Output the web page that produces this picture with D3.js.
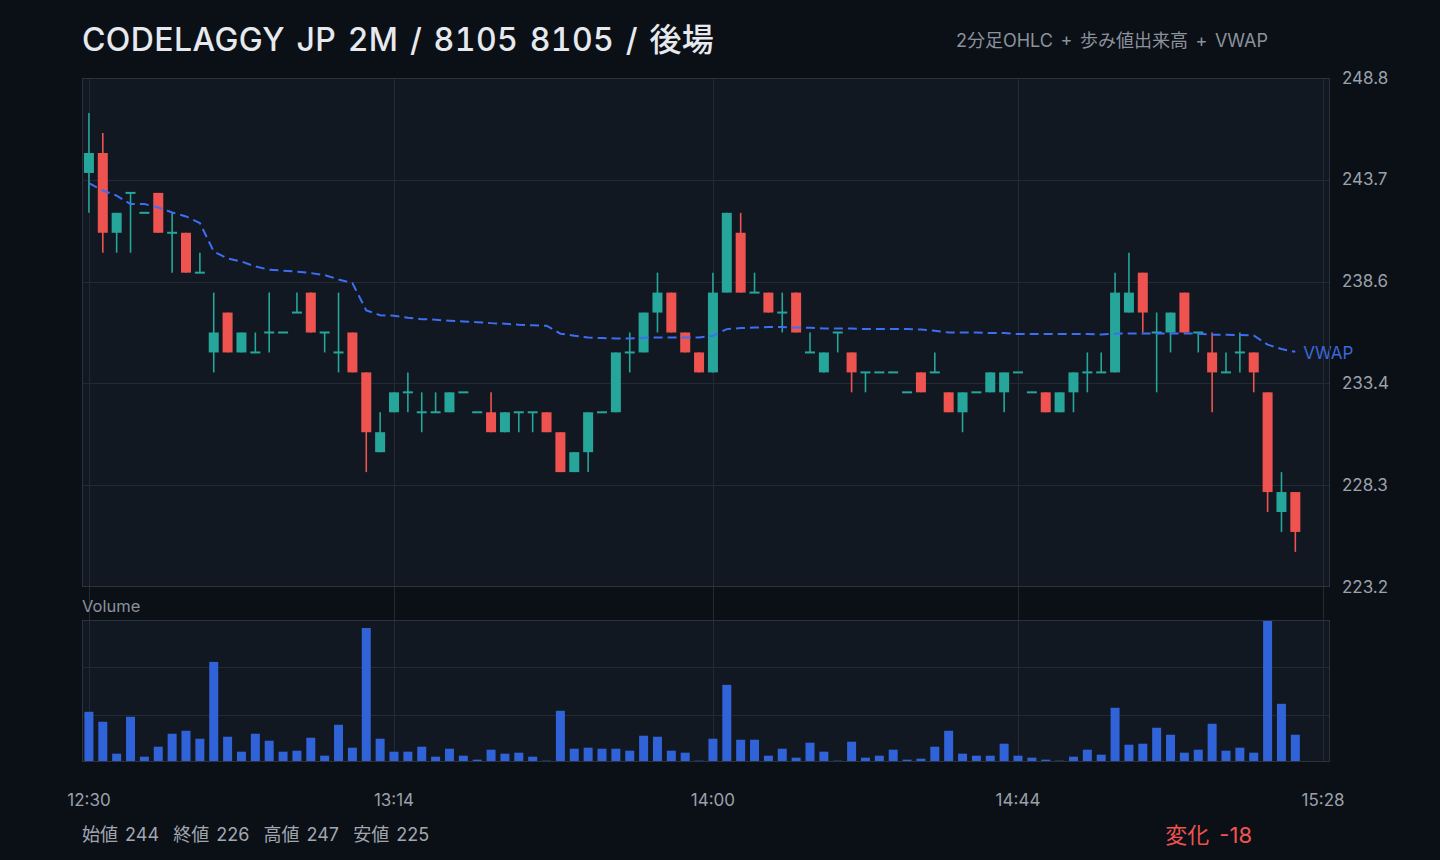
<!DOCTYPE html>
<html lang="ja">
<head>
<meta charset="UTF-8">
<title>CODELAGGY JP 2M / 8105</title>
<script src="https://cdn.jsdelivr.net/npm/d3@7"></script>
<style>
  html, body { margin: 0; padding: 0; background: #0b0f16; }
  svg { display: block; font-family: Inter, "Noto Sans CJK JP", sans-serif; }
</style>
</head>
<body>
<svg id="chart" width="1440" height="860"></svg>
<script>
// 2-minute bars, afternoon session
const sessionStart = '12:30';
const slotCount = 90;            // 12:30 .. 15:28
const tickLabels = ['12:30', '13:14', '14:00', '14:44', '15:28'];

const opens  = [244,245,241,243,242,243,241,241,239,235,237,235,235,236,236,237,238,236,235,236,
                234,230,232,233,232,232,232,233,232,232,231,232,232,232,231,229,230,232,232,235,
                235,237,238,236,235,234,238,241,238,238,237,238,235,234,236,235,234,234,234,233,
                234,234,233,232,233,233,233,234,233,233,232,233,234,234,234,237,239,236,236,238,
                236,235,234,235,235,233,227,228];
const highs  = [247,246,242,243,242,243,242,241,240,238,237,236,236,238,236,238,238,236,238,236,
                234,232,233,234,233,233,233,233,232,233,232,232,232,232,231,230,232,232,235,236,
                237,239,238,236,235,239,242,242,239,238,238,238,236,235,236,235,234,234,234,233,
                234,235,233,233,233,234,234,234,233,233,233,234,235,235,239,240,239,237,237,238,
                236,236,235,236,235,233,229,228];
const lows   = [242,240,240,240,242,241,239,239,239,234,235,235,235,235,236,237,236,235,234,234,
                229,230,232,232,231,232,232,233,232,231,231,231,231,231,229,229,229,232,232,234,
                235,236,236,235,234,234,238,238,238,237,236,236,235,234,235,233,233,234,234,233,
                233,234,232,231,233,233,232,234,233,232,232,232,233,234,234,237,236,233,235,236,
                235,232,234,234,233,227,226,225];
const closes = [245,241,242,243,242,241,241,239,239,236,235,236,235,236,236,237,236,236,235,234,
                231,231,233,233,232,232,233,233,232,231,232,232,232,231,229,230,232,232,235,235,
                237,238,236,235,234,238,242,238,238,237,237,236,235,235,236,234,234,234,234,233,
                233,234,232,233,233,234,234,234,233,232,233,234,234,234,238,238,237,236,237,236,
                236,234,234,235,234,228,228,226];
const volumes = [15100,12100,2500,13600,1600,4600,8500,9400,7000,30100,7600,3100,8500,6400,3100,3400,7300,1900,11200,4300,
                 40300,7000,3100,3100,4600,1600,4000,1900,700,3700,2500,2800,1600,400,15400,4000,4300,4000,4000,3400,
                 7900,7600,3400,2800,400,7000,23200,6700,6700,1900,4000,1300,5800,3100,400,6100,1300,1900,3700,700,
                 1000,4600,9400,2500,1900,1900,5500,1900,1300,700,400,1600,3700,2200,16300,5200,5500,10300,8200,2800,
                 3700,11500,3400,4300,2800,42700,17500,8200];
const vwap = [243.49,243.12,242.86,242.44,242.44,242.27,242.02,241.82,241.49,240.06,239.71,239.56,239.31,239.15,239.10,239.05,238.98,238.88,238.66,238.48,
              237.11,236.87,236.84,236.74,236.67,236.64,236.59,236.55,236.52,236.47,236.44,236.39,236.36,236.34,235.94,235.84,235.75,235.72,235.70,235.70,
              235.74,235.75,235.75,235.75,235.75,235.84,236.17,236.22,236.25,236.27,236.27,236.25,236.24,236.20,236.20,236.20,236.17,236.17,236.17,236.17,
              236.15,236.09,236.00,236.00,236.00,235.97,235.97,235.92,235.92,235.92,235.92,235.92,235.92,235.90,235.94,235.95,235.95,235.95,235.95,235.95,
              235.94,235.89,235.89,235.87,235.85,235.39,235.17,235.03];

// build time slots
const [sh, sm] = sessionStart.split(':').map(Number);
const slots = d3.range(slotCount).map(k => {
    const m = sh * 60 + sm + k * 2;
    return Math.floor(m / 60) + ':' + String(m % 60).padStart(2, '0');
});

const bars = opens.map((o, i) => ({
    t: slots[i], o: o, h: highs[i], l: lows[i], c: closes[i], v: volumes[i], w: vwap[i]
}));

const svg = d3.select('#chart');
const bg = '#0b0f16', panelBg = '#111821', gridCol = '#222a34', borderCol = '#2b333e';
const up = '#26a69a', down = '#ef5350';

const left = 82, right = 1330;
const pTop = 78, pBottom = 587;
const vTop = 620, vBottom = 762;

svg.append('rect').attr('width', 1440).attr('height', 860).attr('fill', bg);

// scales
const x = d3.scaleBand().domain(slots).range([left, right]);
const bw = x.bandwidth();
const cx = t => x(t) + bw / 2;

const pMin = d3.min(lows), pMax = d3.max(highs);
const pad = (pMax - pMin) * 0.08;
const y = d3.scaleLinear().domain([pMin - pad, pMax + pad]).range([pBottom, pTop]);
const yTicks = d3.range(6).map(k => y.domain()[0] + k * (y.domain()[1] - y.domain()[0]) / 5);

const yv = d3.scaleLinear().domain([0, d3.max(volumes)]).range([vBottom, vTop]);

// panels
svg.append('rect').attr('x', left).attr('y', pTop).attr('width', right - left).attr('height', pBottom - pTop).attr('fill', panelBg);
svg.append('rect').attr('x', left).attr('y', vTop).attr('width', right - left).attr('height', vBottom - vTop).attr('fill', panelBg);

// grid
const grid = svg.append('g').attr('stroke', gridCol).attr('stroke-width', 1);
grid.selectAll('.hx').data(yTicks.slice(1, -1)).join('line')
    .attr('x1', left).attr('x2', right)
    .attr('y1', d => Math.round(y(d)) + 0.5).attr('y2', d => Math.round(y(d)) + 0.5);
grid.selectAll('.hv').data([1 / 3, 2 / 3]).join('line')
    .attr('x1', left).attr('x2', right)
    .attr('y1', d => Math.round(yv(d3.max(volumes) * d)) + 0.5).attr('y2', d => Math.round(yv(d3.max(volumes) * d)) + 0.5);
grid.selectAll('.vx').data(tickLabels).join('line')
    .attr('x1', d => Math.round(cx(d)) + 0.5).attr('x2', d => Math.round(cx(d)) + 0.5)
    .attr('y1', pTop).attr('y2', vBottom);

// volume
const vw = 9;
svg.append('g').selectAll('rect').data(bars).join('rect')
    .attr('x', d => cx(d.t) - vw / 2)
    .attr('y', d => yv(d.v))
    .attr('width', vw)
    .attr('height', d => vBottom - yv(d.v))
    .attr('fill', '#3062d8');

// candles
const cw = 10;
const candles = svg.append('g').selectAll('g').data(bars).join('g')
    .attr('fill', d => d.c >= d.o ? up : down)
    .attr('stroke', d => d.c >= d.o ? up : down);
candles.append('line')
    .attr('x1', d => cx(d.t)).attr('x2', d => cx(d.t))
    .attr('y1', d => y(d.h)).attr('y2', d => y(d.l))
    .attr('stroke-width', 1.6);
candles.append('rect')
    .attr('stroke', 'none')
    .attr('x', d => cx(d.t) - cw / 2)
    .attr('y', d => Math.min(y(d.o), y(d.c)) - (d.o === d.c ? 1 : 0))
    .attr('width', cw)
    .attr('height', d => Math.max(2, Math.abs(y(d.o) - y(d.c))));

// vwap
const vwapLine = d3.line().x(d => cx(d.t)).y(d => y(d.w));
svg.append('path').datum(bars)
    .attr('d', vwapLine)
    .attr('fill', 'none')
    .attr('stroke', '#3d6ef4')
    .attr('stroke-width', 2)
    .attr('stroke-dasharray', '9,5');
const last = bars[bars.length - 1];
svg.append('text')
    .attr('x', cx(last.t) + 8).attr('y', y(last.w) + 3)
    .attr('dominant-baseline', 'middle')
    .attr('font-size', 17).attr('fill', '#3b68dc')
    .text('VWAP');

// borders
svg.append('rect').attr('x', left + 0.5).attr('y', pTop + 0.5).attr('width', right - left - 1).attr('height', pBottom - pTop - 1)
    .attr('fill', 'none').attr('stroke', borderCol);
svg.append('rect').attr('x', left + 0.5).attr('y', vTop + 0.5).attr('width', right - left - 1).attr('height', vBottom - vTop - 1)
    .attr('fill', 'none').attr('stroke', borderCol);

// price labels
svg.append('g').selectAll('text').data(yTicks).join('text')
    .attr('x', 1342).attr('y', d => y(d) + 1)
    .attr('dominant-baseline', 'middle')
    .attr('font-size', 17).attr('fill', '#9aa1ab')
    .text(d => d.toFixed(1));

// time labels
svg.append('g').selectAll('text').data(tickLabels).join('text')
    .attr('x', d => cx(d)).attr('y', 801)
    .attr('text-anchor', 'middle').attr('dominant-baseline', 'middle')
    .attr('font-size', 17).attr('fill', '#9aa1ab')
    .text(d => d);

svg.append('text').attr('x', 82).attr('y', 612)
    .attr('font-size', 16.5).attr('fill', '#8b929c').text('Volume');

// titles
svg.append('text').attr('x', 82).attr('y', 51)
    .attr('font-size', 32).attr('font-weight', 500).attr('fill', '#e6e9ee')
    .style('font-variant-numeric', 'tabular-nums')
    .style('word-spacing', '2.5px').style('letter-spacing', '0.4px')
    .text('CODELAGGY JP 2M / 8105 8105 / 後場');
svg.append('text').attr('x', 1268).attr('y', 47)
    .attr('text-anchor', 'end')
    .attr('font-size', 18).attr('fill', '#8b929c')
    .style('word-spacing', '2.5px')
    .text('2分足OHLC + 歩み値出来高 + VWAP');

// footer
const first = bars[0];
const change = last.c - first.o;
svg.append('text').attr('x', 82).attr('y', 841)
    .style('white-space', 'pre').style('word-spacing', '2px')
    .attr('font-size', 18).attr('fill', '#a1a7b0')
    .text(`始値 ${first.o}  終値 ${last.c}  高値 ${pMax}  安値 ${pMin}`);
svg.append('text').attr('x', 1252).attr('y', 843)
    .attr('text-anchor', 'end')
    .style('word-spacing', '4px')
    .attr('font-size', 22).attr('fill', change < 0 ? down : up)
    .text(`変化 ${change}`);
</script>
</body>
</html>
